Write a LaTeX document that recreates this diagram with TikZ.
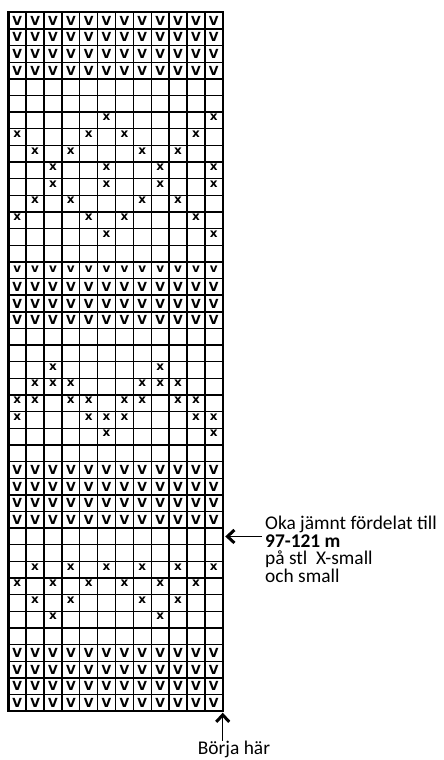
\documentclass[tikz,border=0pt]{standalone}
\usepackage{fontspec}
\setmainfont{Carlito}
\newfontfamily\chartfont{DejaVu Sans}
\usetikzlibrary{arrows.meta, calc}

\begin{document}
\begin{tikzpicture}[x=1pt, y=-1pt,
    gridline/.style={line width=1.4pt},
    frame/.style={line width=2.4pt},
    vmark/.style={inner sep=0pt, font=\chartfont\bfseries\fontsize{12.5}{12.5}\selectfont},
    smallv/.style={inner sep=0pt, yshift=1pt, font=\chartfont\bfseries\fontsize{12}{12}\selectfont},
    xmark/.style={inner sep=0pt, yshift=3pt, font=\chartfont\bfseries\fontsize{12}{12}\selectfont},
    note/.style={inner sep=0pt, align=left, font=\fontsize{19.4}{17.6}\selectfont},
    pointer/.style={line width=1.4pt, -{Straight Barb[length=7pt, width=13pt, line width=3pt]}}]
        \useasboundingbox (0,0) rectangle (444,760);
        % Chart: 12 stitches x 42 rows
        \begin{scope}[shift={(8.3,12.3)}, x=17.87pt, y=-16.64pt]
        \foreach \c in {0,...,12} {\draw[gridline] (\c,0) -- (\c,42);}
        \foreach \r in {0,...,42} {\draw[gridline] (0,\r) -- (12,\r);}
        \draw[frame] (0,0) rectangle (12,42);
        % V rows
        \foreach \r in {1,2,3,4,17,18,19,28,29,30,31,39,40,41,42}
          \foreach \c in {1,...,12} {\node[vmark] (v-\r-\c) at (\c-0.5,\r-0.5) {V};}
        \foreach \c in {1,...,12} {\node[smallv] (v-16-\c) at (\c-0.5,15.5) {v};}
        % x pattern, row/columns
        \foreach \r/\cols in {7/{6,12}, 8/{1,5,7,11}, 9/{2,4,8,10}, 10/{3,6,9,12},
            11/{3,6,9,12}, 12/{2,4,8,10}, 13/{1,5,7,11}, 14/{6,12},
            22/{3,9}, 23/{2,3,4,8,9,10}, 24/{1,2,4,5,7,8,10,11}, 25/{1,5,6,7,11,12}, 26/{6,12},
            34/{2,4,6,8,10,12}, 35/{1,3,5,7,9,11}, 36/{2,4,8,10}, 37/{3,9}}
          \foreach \c in \cols {\node[xmark] (x-\r-\c) at (\c-0.5,\r-0.5) {x};}
        \coordinate (inc) at (12,31.5);
        \coordinate (corner) at (12,42);
        \end{scope}
        % Notes
        \node[note, anchor=north west] (incnote) at (265,516)
          {Oka jämnt fördelat till\\\textbf{97-121 m}\\på stl\ \ X-small\\och small};
        \draw[pointer] ($(inc -| incnote.west)+(-3,0)$) -- ($(inc)+(2.5,0)$);
        \node[note, anchor=north] (start) at (234,741) {Börja här};
        \draw[pointer] (start.north -| corner) -- ($(corner)+(0,1.5)$);
      \end{tikzpicture}
\end{document}
